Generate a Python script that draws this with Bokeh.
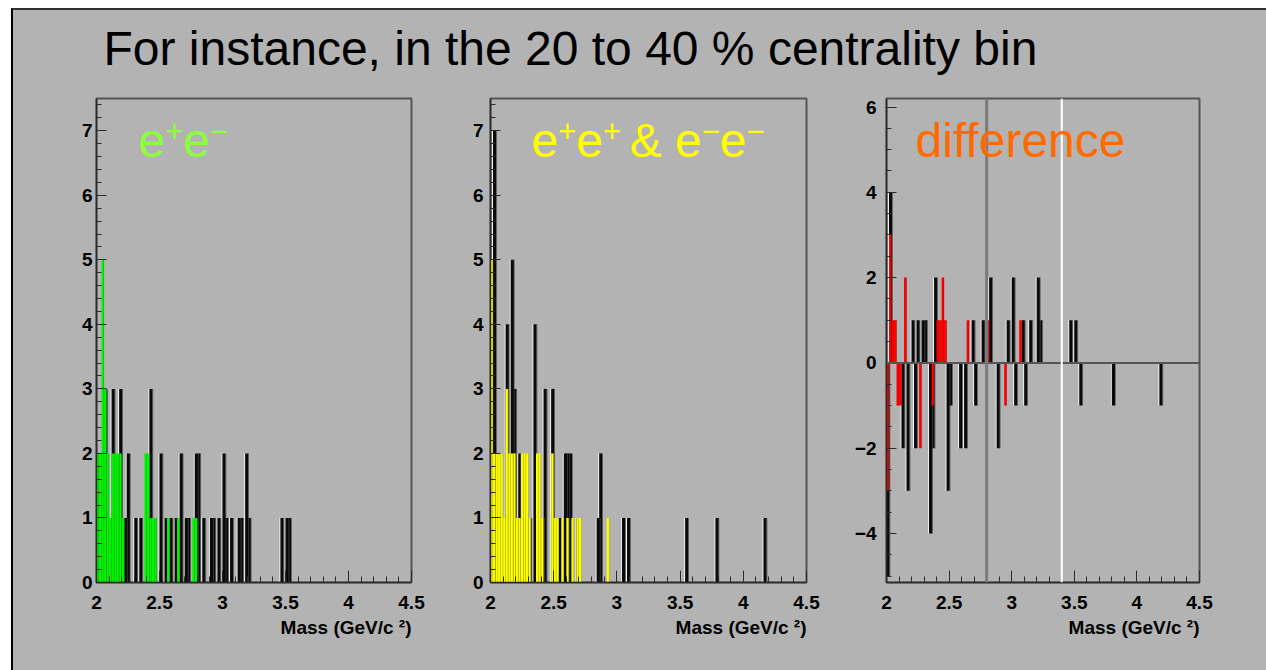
import numpy as np
from bokeh.plotting import figure
from bokeh.models import Label, Span, FixedTicker, SingleIntervalTicker, Title
from bokeh.layouts import column, row
from bokeh.embed import file_html
from bokeh.resources import INLINE

BG = "#b3b3b3"
FONT = "Liberation Sans"
BIN = 0.02
X_RANGE = (2.0, 4.5)
FRAME_H = 484

x_ticks = [2.0, 2.5, 3.0, 3.5, 4.0, 4.5]
x_tick_labels = ["2", "2.5", "3", "3.5", "4", "4.5"]

# e+e- pairs: all candidates (dark bars) and selected candidates (green), per 20 MeV bin
os_all_mass = [2.06, 2.12, 2.18, 2.22, 2.24, 2.30, 2.34, 2.42, 2.50, 2.54, 2.58, 2.62,
               2.66, 2.70, 2.72, 2.78, 2.80, 2.84, 2.90, 2.92, 2.96, 3.00, 3.02, 3.06,
               3.12, 3.14, 3.18, 3.20, 3.46, 3.50, 3.52]
os_all_count = [3, 3, 3, 1, 2, 1, 1, 3, 2, 1, 1, 1,
                2, 1, 1, 2, 2, 1, 1, 1, 1, 2, 1, 1,
                1, 1, 2, 1, 1, 1, 1]
os_sel_mass = [2.00, 2.02, 2.04, 2.06, 2.08, 2.10, 2.12, 2.14, 2.16, 2.18, 2.20,
               2.38, 2.40, 2.42, 2.44, 2.46, 2.56, 2.64, 2.76, 2.78]
os_sel_count = [2, 2, 5, 3, 2, 1, 2, 2, 2, 2, 1,
                2, 2, 1, 1, 1, 1, 1, 1, 1]

# like-sign pairs e+e+ & e-e-
ls_all_mass = [2.02, 2.12, 2.16, 2.18, 2.22, 2.26, 2.30, 2.34, 2.40, 2.42, 2.48, 2.54,
               2.58, 2.60, 2.62, 2.68, 2.84, 2.86, 3.04, 3.08, 3.54, 3.78, 4.16]
ls_all_count = [7, 4, 5, 3, 2, 1, 1, 4, 1, 3, 3, 1,
                2, 2, 2, 1, 1, 2, 1, 1, 1, 1, 1]
ls_sel_mass = [2.00, 2.02, 2.04, 2.06, 2.08, 2.10, 2.12, 2.14, 2.16, 2.18, 2.20, 2.22,
               2.24, 2.26, 2.28, 2.30, 2.36, 2.38, 2.40, 2.48, 2.50, 2.52, 2.56, 2.60,
               2.64, 2.68, 2.70, 2.92]
ls_sel_count = [5, 2, 2, 2, 2, 1, 3, 2, 2, 2, 1, 1,
                2, 2, 2, 1, 2, 2, 1, 2, 1, 1, 1, 1,
                1, 1, 1, 1]

# difference (unlike-sign minus like-sign)
diff_all_mass = [2.00, 2.02, 2.12, 2.16, 2.20, 2.22, 2.24, 2.28, 2.30, 2.34, 2.36, 2.38,
                 2.48, 2.50, 2.58, 2.62, 2.68, 2.70, 2.76, 2.82, 2.88, 2.96, 3.00, 3.02,
                 3.08, 3.10, 3.14, 3.20, 3.22, 3.46, 3.50, 3.54, 3.80, 4.18]
diff_all_count = [-5, 4, -2, -3, 1, -2, 1, 1, 1, -4, -2, 2,
                  -3, -1, -2, -2, 1, -1, 1, 2, -2, 1, 2, -1,
                  1, -1, 1, 2, 1, 1, 1, -1, -1, -1]
diff_sel_mass = [2.00, 2.02, 2.04, 2.06, 2.08, 2.10, 2.14, 2.26, 2.36, 2.40, 2.42, 2.44,
                 2.46, 2.64, 2.80, 2.94, 3.06]
diff_sel_count = [-3, 3, 1, 1, -1, -1, 2, -2, -1, 1, 1, 2,
                  1, 1, 1, -1, 1]

mass_window = [2.8, 3.4]


def make_panel(y_range, y_step, y_minor, left, frame_w, right, y_standoff):
    p = figure(frame_width=frame_w, frame_height=FRAME_H,
               min_border_left=left, min_border_right=right,
               min_border_top=8, min_border_bottom=88,
               x_range=X_RANGE, y_range=y_range,
               toolbar_location=None, output_backend="svg",
               background_fill_color=BG, border_fill_color=BG,
               outline_line_color="#555555", outline_line_width=2)
    p.grid.visible = False
    xa = p.xaxis[0]
    ya = p.yaxis[0]
    xa.ticker = FixedTicker(ticks=x_ticks,
                            minor_ticks=list(np.round(np.arange(2.0, 4.501, 0.1), 2)))
    xa.major_label_overrides = {t: s for t, s in zip(x_ticks, x_tick_labels)}
    ya.ticker = SingleIntervalTicker(interval=y_step, num_minor_ticks=y_minor)
    for ax in (xa, ya):
        ax.major_tick_out = 0
        ax.minor_tick_out = 0
        ax.axis_line_color = "#2b2b2b"
        ax.axis_line_width = 1.5
        ax.major_tick_line_color = "#2b2b2b"
        ax.minor_tick_line_color = "#2b2b2b"
        ax.major_label_text_font = FONT
        ax.major_label_text_font_style = "bold"
        ax.major_label_text_font_size = "19px"
        ax.major_label_text_color = "#000000"
    xa.major_tick_in = 12
    xa.minor_tick_in = 6
    ya.major_tick_in = 10
    ya.minor_tick_in = 5
    xa.major_label_standoff = 13
    ya.major_label_standoff = y_standoff
    p.add_layout(Title(text="Mass (GeV/c \u00b2)", align="right",
                       text_font=FONT, text_font_style="bold", text_font_size="19px",
                       text_color="#000000", standoff=6), "below")
    return p


def draw_dark(p, mass, count):
    # bar with a light left face, dark body and grey right face
    m = np.asarray(mass, dtype=float)
    c = np.asarray(count, dtype=float)
    p.quad(left=m - 0.008, right=m, bottom=0, top=c,
           fill_color="#f4f4f4", line_color=None)
    p.quad(left=m, right=m + 0.025, bottom=0, top=c,
           fill_color="#0a0a0a", line_color=None)
    p.quad(left=m + 0.025, right=m + 0.030, bottom=0, top=c,
           fill_color="#4a4a4a", line_color=None)


def draw_colored(p, mass, count, color, edge):
    m = np.asarray(mass, dtype=float)
    c = np.asarray(count, dtype=float)
    p.quad(left=m, right=m + BIN, bottom=0, top=c,
           fill_color=color, line_color=None)
    p.quad(left=m + BIN - 0.003, right=m + BIN, bottom=0, top=c,
           fill_color=edge, line_color=None)


def sup_text(p, x, y, parts, color):
    # parts: (text, superscript?, advance in em) pieces laid out left to right
    off = 0.0
    for txt, sup, adv in parts:
        size = 31 if sup else 48
        p.add_layout(Label(x=x, y=y, x_offset=off, y_offset=10 if sup else 0,
                           text=txt, text_font=FONT, text_font_size=f"{size}px",
                           text_baseline="alphabetic", text_color=color))
        off += adv * size


# title strip
title = figure(width=1253, height=80, x_range=(0, 1253), y_range=(0, 80),
               toolbar_location=None, output_backend="svg",
               background_fill_color=BG, border_fill_color=BG,
               outline_line_color=None, min_border=0)
title.axis.visible = False
title.grid.visible = False
title.add_layout(Label(x=90, y=16, text="For instance, in the 20 to 40 % centrality bin",
                       text_font=FONT, text_font_size="48px", text_color="#000000"))

E, PLUS, MINUS = 0.556, 0.584, 0.584

# panel 1: e+e-
p1 = make_panel((0, 7.5), 1, 5, 83, 315, 39, 4)
draw_dark(p1, os_all_mass, os_all_count)
draw_colored(p1, os_sel_mass, os_sel_count, "#00f800", "#008c00")
sup_text(p1, 2.333, 6.849,
         [("e", False, E), ("+", True, PLUS), ("e", False, E), ("\u2212", True, MINUS)],
         "#8cff3c")

# panel 2: e+e+ & e-e-
p2 = make_panel((0, 7.5), 1, 5, 40, 316, 40, 7)
draw_dark(p2, ls_all_mass, ls_all_count)
draw_colored(p2, ls_sel_mass, ls_sel_count, "#ffff00", "#8c8c00")
sup_text(p2, 2.324, 6.849,
         [("e", False, E), ("+", True, PLUS), ("e", False, E), ("+", True, PLUS + 0.278),
          ("&", False, 0.667 + 0.278), ("e", False, E), ("\u2212", True, MINUS),
          ("e", False, E), ("\u2212", True, MINUS)],
         "#ffff00")

# panel 3: difference
y3 = (-5.15, 6.2)
p3 = make_panel(y3, 2, 4, 40, 313, 67, 10)
draw_dark(p3, diff_all_mass, diff_all_count)
draw_colored(p3, diff_sel_mass, diff_sel_count, "#ff0000", "#a00000")
p3.add_layout(Span(location=0, dimension="width", line_color="#555555", line_width=2))
p3.add_layout(Span(location=mass_window[0], dimension="height", line_color="#7a7a7a", line_width=3))
p3.add_layout(Span(location=mass_window[1], dimension="height", line_color="#ffffff", line_width=2))
p3.add_layout(Label(x=2.232, y=5.215, text="difference", text_font=FONT,
                    text_font_size="48px", text_baseline="alphabetic", text_color="#ff6a00"))

page = column(title, row(p1, p2, p3, spacing=0), spacing=0,
              margin=(8, 0, 0, 11),
              styles={"border-left": "2px solid #000000",
                      "border-top": "2px solid #303030",
                      "background-color": BG})

html = file_html(page, INLINE, title="Centrality 20-40%")
html = html.replace("<body>", '<body style="margin:0;overflow:hidden">', 1)
open("out.html", "w").write(html)
